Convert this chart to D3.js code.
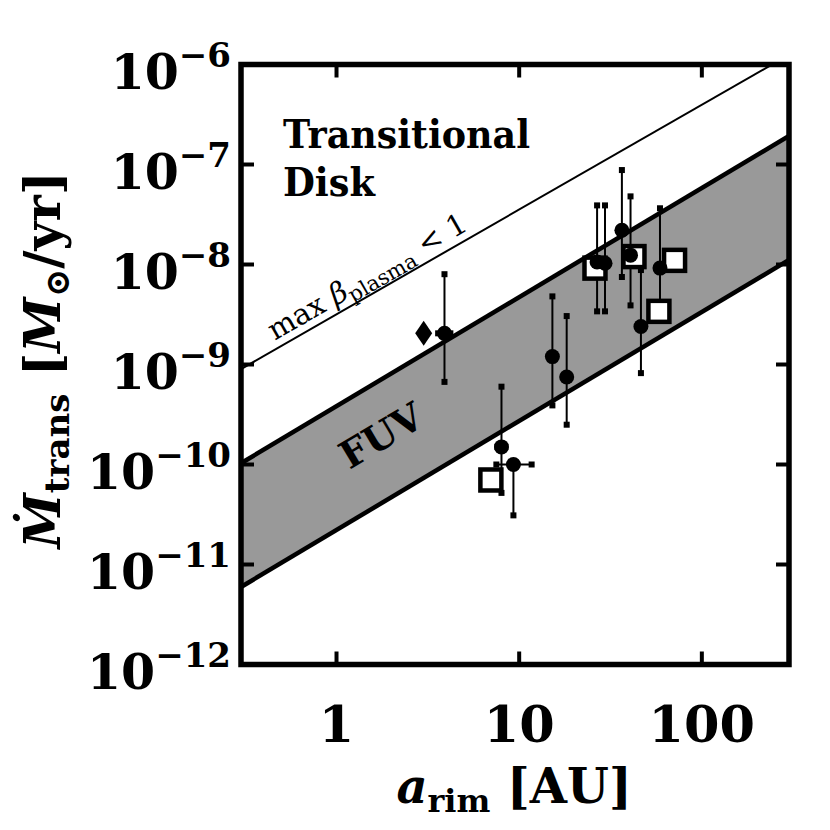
<!DOCTYPE html>
<html>
<head>
<meta charset="utf-8">
<script src="https://cdn.jsdelivr.net/npm/d3@7"></script>
<style>
  body { margin: 0; background: #fff; }
  svg text { font-family: 'DejaVu Serif', serif; }
</style>
</head>
<body>
<div id="chart"></div>
<script>
// disks with error bars (filled circles)
const circleA = [3.9, 8.0, 9.3, 15.2, 18.2, 26.7, 29.5, 36.5, 40.7, 46.4, 59];
const circleM = [2.05e-9, 1.5e-10, 1.0e-10, 1.2e-9, 7.5e-10, 1.06e-8, 1.03e-8, 2.2e-8, 1.24e-8, 2.4e-9, 9.2e-9];
const circleMlo = [6.7e-10, 5.2e-11, 3.1e-11, 3.9e-10, 2.5e-10, 3.4e-9, 3.4e-9, 7.5e-9, 3.9e-9, 8.2e-10, 3.3e-9];
const circleMhi = [8.0e-9, 6.0e-10, 1.0e-10, 4.8e-9, 3.05e-9, 3.9e-8, 3.9e-8, 8.8e-8, 4.8e-8, 8.8e-9, 3.65e-8];
const circleAlo = [3.6, 7.6, 7.5, 15.2, 18.2, 26.7, 29.5, 36.5, 38.5, 46.4, 59];
const circleAhi = [4.2, 8.4, 11.7, 15.2, 18.2, 26.7, 29.5, 36.5, 43.0, 46.4, 59];

// open squares
const squareA = [7.0, 26, 42.5, 58.2, 70.9];
const squareM = [7.0e-11, 9.2e-9, 1.2e-8, 3.4e-9, 1.1e-8];

// diamond
const diamondA = [3.0];
const diamondM = [2.05e-9];

// model lines, evaluated at the plot edges
const lineA = [0.3, 300];
const fuvUpper = [1.03e-10, 1.93e-7];
const fuvLower = [5.96e-12, 1.11e-8];
const betaLine = [9.0e-10, 1.25e-6];

const xTicks = [1, 10, 100];
const xTickLabels = ['1', '10', '100'];
const yTicks = [1e-12, 1e-11, 1e-10, 1e-9, 1e-8, 1e-7, 1e-6];
const yTickExp = ['\u221212', '\u221211', '\u221210', '\u22129', '\u22128', '\u22127', '\u22126'];

const width = 830;
const height = 830;
const pLeft = 241, pRight = 789, pTop = 64.5, pBottom = 664.5;

const x = d3.scaleLog().domain([0.3, 300]).range([pLeft, pRight]);
const y = d3.scaleLog().domain([1e-12, 1e-6]).range([pBottom, pTop]);

const svg = d3.select('#chart').append('svg')
  .attr('width', width)
  .attr('height', height)
  .attr('viewBox', `0 0 ${width} ${height}`);

svg.append('rect').attr('width', width).attr('height', height).attr('fill', '#fff');

svg.append('clipPath').attr('id', 'plot-clip')
  .append('rect')
  .attr('x', pLeft).attr('y', pTop)
  .attr('width', pRight - pLeft).attr('height', pBottom - pTop);

const plot = svg.append('g').attr('clip-path', 'url(#plot-clip)');

// FUV band
const band = [
  [x(lineA[0]), y(fuvUpper[0])],
  [x(lineA[1]), y(fuvUpper[1])],
  [x(lineA[1]), y(fuvLower[1])],
  [x(lineA[0]), y(fuvLower[0])],
];
plot.append('path')
  .attr('d', d3.line()(band) + 'Z')
  .attr('fill', '#999999');

const line = d3.line().x(d => x(d[0])).y(d => y(d[1]));
[fuvUpper, fuvLower].forEach((vals) => {
  plot.append('path')
    .attr('d', line(lineA.map((a, i) => [a, vals[i]])))
    .attr('stroke', '#000').attr('stroke-width', 4.5).attr('fill', 'none');
});
plot.append('path')
  .attr('d', line(lineA.map((a, i) => [a, betaLine[i]])))
  .attr('stroke', '#000').attr('stroke-width', 2).attr('fill', 'none');

// error bars
const capSize = 6;
circleA.forEach((a, i) => {
  const cx = x(a);
  const cy = y(circleM[i]);
  const y0 = y(circleMlo[i]);
  const y1 = y(circleMhi[i]);
  plot.append('line').attr('x1', cx).attr('x2', cx).attr('y1', y0).attr('y2', y1)
    .attr('stroke', '#000').attr('stroke-width', 2);
  [y0, y1].forEach((cyy) => {
    if (Math.abs(cyy - cy) > 1) {
      plot.append('rect').attr('x', cx - capSize / 2).attr('y', cyy - capSize / 2)
        .attr('width', capSize).attr('height', capSize).attr('fill', '#000');
    }
  });
  const x0 = x(circleAlo[i]);
  const x1 = x(circleAhi[i]);
  if (x1 - x0 > 1) {
    plot.append('line').attr('x1', x0).attr('x2', x1).attr('y1', cy).attr('y2', cy)
      .attr('stroke', '#000').attr('stroke-width', 2);
    [x0, x1].forEach((cxx) => {
      plot.append('rect').attr('x', cxx - capSize / 2).attr('y', cy - capSize / 2)
        .attr('width', capSize).attr('height', capSize).attr('fill', '#000');
    });
  }
});

// squares
const sq = 21;
squareA.forEach((a, i) => {
  plot.append('rect')
    .attr('x', x(a) - sq / 2).attr('y', y(squareM[i]) - sq / 2)
    .attr('width', sq).attr('height', sq)
    .attr('fill', '#fff').attr('stroke', '#000').attr('stroke-width', 4.5);
});

// circles
circleA.forEach((a, i) => {
  plot.append('circle')
    .attr('cx', x(a)).attr('cy', y(circleM[i])).attr('r', 7.5)
    .attr('fill', '#000');
});

// diamond
diamondA.forEach((a, i) => {
  const cx = x(a), cy = y(diamondM[i]);
  plot.append('path')
    .attr('d', `M${cx},${cy - 12.5}L${cx + 8.5},${cy}L${cx},${cy + 12.5}L${cx - 8.5},${cy}Z`)
    .attr('fill', '#000');
});

// frame + ticks
const tickLen = 13;
const axes = svg.append('g').attr('stroke', '#000').attr('stroke-width', 4);
xTicks.forEach((t) => {
  axes.append('line').attr('x1', x(t)).attr('x2', x(t)).attr('y1', pBottom).attr('y2', pBottom - tickLen);
  axes.append('line').attr('x1', x(t)).attr('x2', x(t)).attr('y1', pTop).attr('y2', pTop + tickLen);
});
yTicks.slice(1, -1).forEach((t) => {
  axes.append('line').attr('x1', pLeft).attr('x2', pLeft + tickLen).attr('y1', y(t)).attr('y2', y(t));
  axes.append('line').attr('x1', pRight).attr('x2', pRight - tickLen).attr('y1', y(t)).attr('y2', y(t));
});
svg.append('rect')
  .attr('x', pLeft).attr('y', pTop)
  .attr('width', pRight - pLeft).attr('height', pBottom - pTop)
  .attr('fill', 'none').attr('stroke', '#000').attr('stroke-width', 5.5);

// tick labels
xTicks.forEach((t, i) => {
  svg.append('text')
    .attr('x', x(t)).attr('y', 742)
    .attr('text-anchor', 'middle')
    .attr('font-size', 51).attr('font-weight', 'bold')
    .text(xTickLabels[i]);
});
yTicks.forEach((t, i) => {
  const txt = svg.append('text')
    .attr('x', 231).attr('y', y(t) + 24)
    .attr('text-anchor', 'end')
    .attr('font-weight', 'bold');
  txt.append('tspan').attr('font-size', 49).text('10');
  txt.append('tspan').attr('font-size', 34).attr('dy', -22).text(yTickExp[i]);
});

// axis titles
const xt = svg.append('text')
  .attr('x', 514).attr('y', 803)
  .attr('text-anchor', 'middle')
  .attr('font-weight', 'bold');
xt.append('tspan').attr('font-size', 48).attr('font-style', 'italic').text('a');
xt.append('tspan').attr('font-size', 32).attr('dy', 9).text('rim');
xt.append('tspan').attr('font-size', 48).attr('dy', -9).text(' [AU]');

const yt = svg.append('text')
  .attr('transform', 'translate(60,360) rotate(-90)')
  .attr('text-anchor', 'middle')
  .attr('font-weight', 'bold');
yt.append('tspan').attr('font-size', 50).attr('font-style', 'italic').text('\u1E40');
yt.append('tspan').attr('font-size', 34).attr('dy', 9).text('trans');
yt.append('tspan').attr('font-size', 50).attr('dy', -9).text(' [');
yt.append('tspan').attr('font-size', 50).attr('font-style', 'italic').text('M');
yt.append('tspan').attr('font-size', 34).attr('dy', 9).text('\u2299');
yt.append('tspan').attr('font-size', 50).attr('dy', -9).text('/yr]');

// annotations
svg.append('text').attr('x', 283).attr('y', 148)
  .attr('font-size', 39).attr('font-weight', 'bold')
  .attr('textLength', 247).attr('lengthAdjust', 'spacingAndGlyphs')
  .text('Transitional');
svg.append('text').attr('x', 283).attr('y', 196)
  .attr('font-size', 39).attr('font-weight', 'bold')
  .attr('textLength', 92).attr('lengthAdjust', 'spacingAndGlyphs')
  .text('Disk');

const fuvAngle = -Math.atan2(y(fuvUpper[0]) - y(fuvUpper[1]), x(lineA[1]) - x(lineA[0])) * 180 / Math.PI;
svg.append('text')
  .attr('transform', `translate(388,447) rotate(${fuvAngle})`)
  .attr('text-anchor', 'middle')
  .attr('font-size', 38).attr('font-weight', 'bold')
  .text('FUV');

const betaAngle = -Math.atan2(y(betaLine[0]) - y(betaLine[1]), x(lineA[1]) - x(lineA[0])) * 180 / Math.PI;
const bt = svg.append('text')
  .attr('transform', `translate(372,285) rotate(${betaAngle})`)
  .attr('text-anchor', 'middle');
bt.append('tspan').attr('font-size', 29).text('max ');
bt.append('tspan').attr('font-size', 29).attr('font-style', 'italic').text('\u03B2');
bt.append('tspan').attr('font-size', 21).attr('dy', 6).text('plasma');
bt.append('tspan').attr('font-size', 29).attr('dy', -6).text(' < 1');
</script>
</body>
</html>
